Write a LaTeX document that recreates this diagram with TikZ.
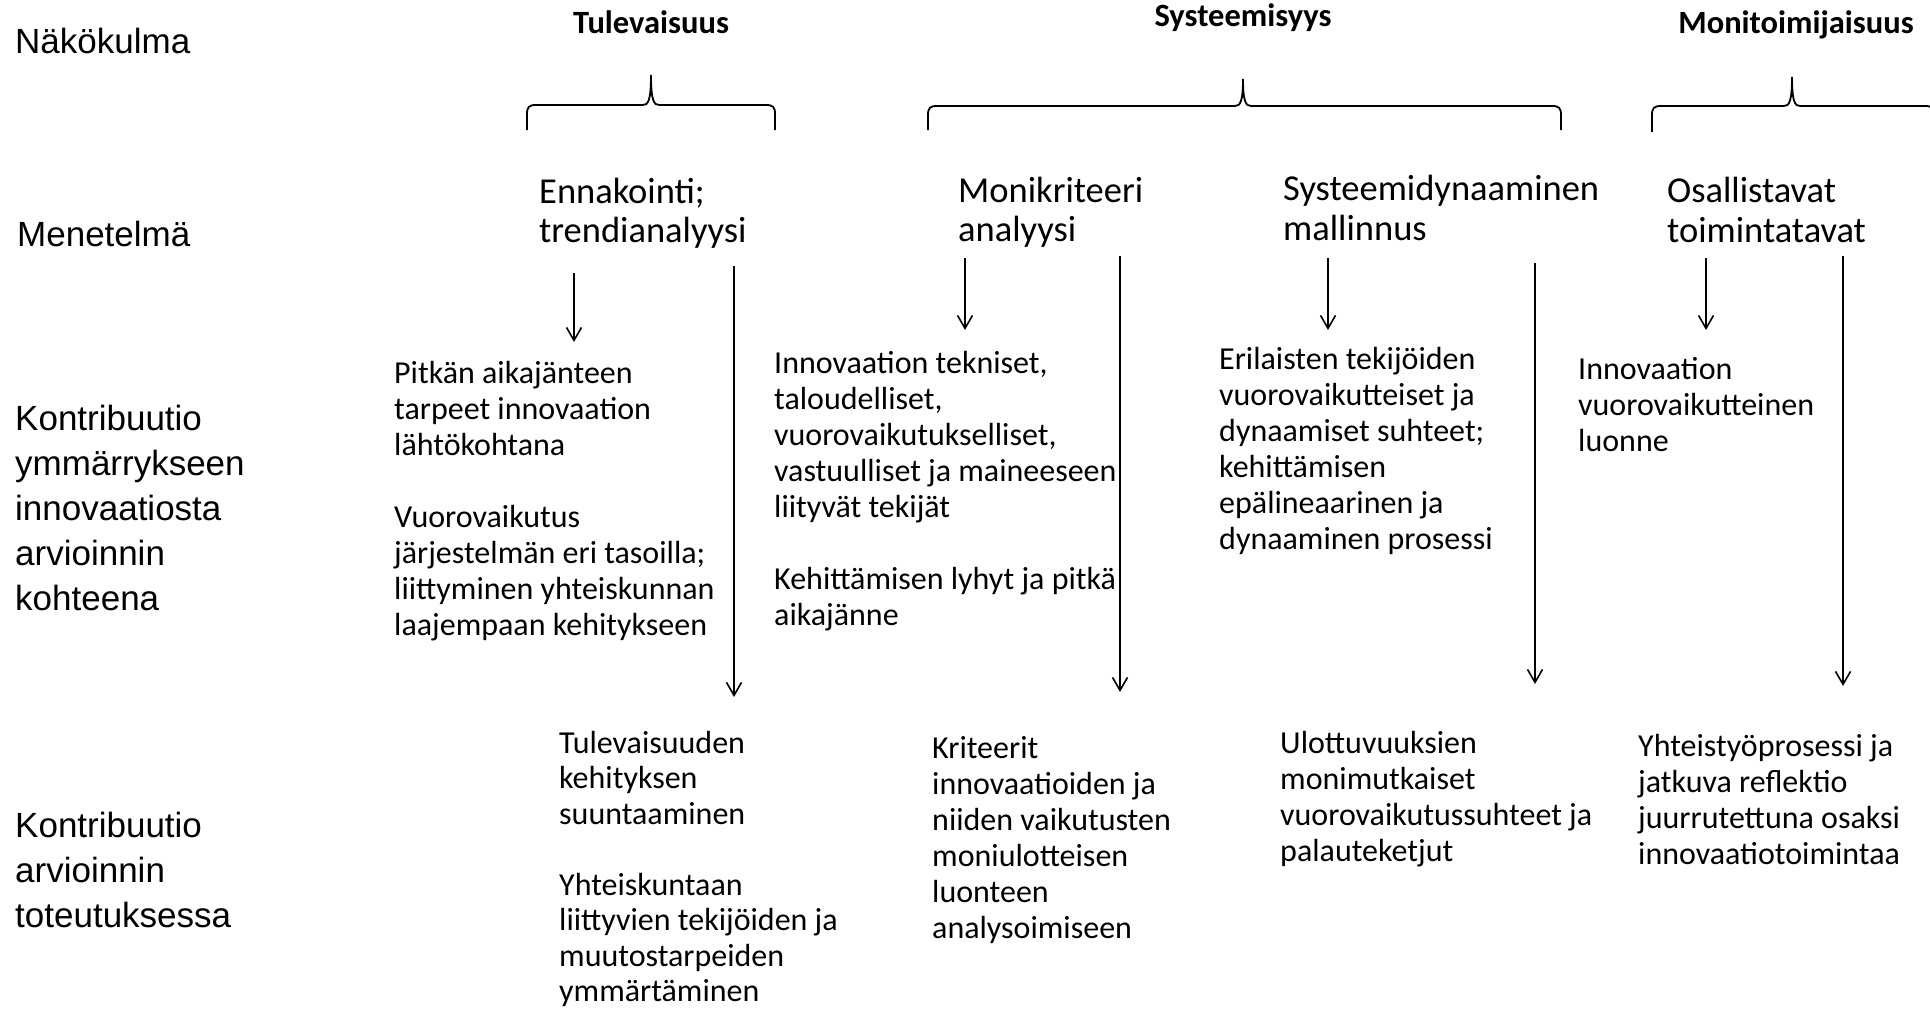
\documentclass[tikz,border=0pt]{standalone}
\usepackage{fontspec}
\setmainfont{Carlito}
\newfontfamily\lblfont{Liberation Sans}
\usetikzlibrary{arrows.meta}
\newcommand\drawbrace[6]{%
  \draw[bracestyle] ({#1},{#6}) -- ({#1},{#5+9})
    .. controls ({#1},{#5+2}) and ({#1+2},{#5}) .. ({#1+9},{#5})
    -- ({#2-8},{#5})
    .. controls ({#2-3},{#5}) and ({#2},{#5-4}) .. ({#2},{#4})
    .. controls ({#2},{#5-4}) and ({#2+3},{#5}) .. ({#2+8},{#5})
    -- ({#3-9},{#5})
    .. controls ({#3-2},{#5}) and ({#3},{#5+2}) .. ({#3},{#5+9})
    -- ({#3},{#6});}
\begin{document}
\begin{tikzpicture}[x=1pt,y=-1pt,
  rowlabel/.style={anchor=west,inner sep=0pt,align=left,font=\lblfont\fontsize{35}{45}\selectfont},
  header/.style={inner sep=0pt,font=\bfseries\fontsize{32.5}{38}\selectfont},
  method/.style={anchor=west,inner sep=0pt,align=left,font=\fontsize{36.5}{39.4}\selectfont},
  body/.style={anchor=west,inner sep=0pt,align=left,font=\fontsize{32}{36}\selectfont},
  arr/.style={line width=1.6pt,-{Straight Barb[length=13pt,width=15pt,line width=1.6pt]}},
  bracestyle/.style={line width=1.8pt}]
\useasboundingbox (0,0) rectangle (1930,1009);

% row labels
\node[rowlabel] (lnako) at (15,41) {Näkökulma};
\node[rowlabel] (lmene) at (17,234) {Menetelmä};
\node[rowlabel] (lkont1) at (15,508) {Kontribuutio\\ymmärrykseen\\innovaatiosta\\arvioinnin\\kohteena};
\node[rowlabel] (lkont2) at (15,870) {Kontribuutio\\arvioinnin\\toteutuksessa};

% headers
\node[header] (htule) at (651,22) {Tulevaisuus};
\node[header] (hsyst) at (1243,18) {Systeemisyys};
\node[header] (hmoni) at (1796,25) {Monitoimijaisuus};

% braces
\drawbrace{527}{651}{775}{75}{105}{130}
\drawbrace{928}{1243}{1561}{79}{106}{130}
\drawbrace{1652}{1792}{1934}{77}{106}{132}

% methods
\node[method] (m1) at (539,213) {Ennakointi;\\trendianalyysi};
\node[method] (m2) at (958,212) {Monikriteeri\\analyysi};
\node[method] (m3) at (1283,208) {Systeemidynaaminen\\mallinnus};
\node[method] (m4) at (1667,210) {Osallistavat\\toimintatavat};

% upper contributions
\node[body] (u1) at (394,501) {Pitkän aikajänteen\\tarpeet innovaation\\lähtökohtana\\[36pt]Vuorovaikutus\\järjestelmän eri tasoilla;\\liittyminen yhteiskunnan\\laajempaan kehitykseen};
\node[body] (u2) at (774,491) {Innovaation tekniset,\\taloudelliset,\\vuorovaikutukselliset,\\vastuulliset ja maineeseen\\liityvät tekijät\\[36pt]Kehittämisen lyhyt ja pitkä\\aikajänne};
\node[body] (u3) at (1219,451) {Erilaisten tekijöiden\\vuorovaikutteiset ja\\dynaamiset suhteet;\\kehittämisen\\epälineaarinen ja\\dynaaminen prosessi};
\node[body] (u4) at (1578,405) {Innovaation\\vuorovaikutteinen\\luonne};

% lower contributions
\node[body,font=\fontsize{32}{35.5}\selectfont] (d1) at (559,869) {Tulevaisuuden\\kehityksen\\suuntaaminen\\[35.5pt]Yhteiskuntaan\\liittyvien tekijöiden ja\\muutostarpeiden\\ymmärtäminen};
\node[body] (d2) at (932,840) {Kriteerit\\innovaatioiden ja\\niiden vaikutusten\\moniulotteisen\\luonteen\\analysoimiseen};
\node[body] (d3) at (1280,799) {Ulottuvuuksien\\monimutkaiset\\vuorovaikutussuhteet ja\\palauteketjut};
\node[body] (d4) at (1638,799) {Yhteistyöprosessi ja\\jatkuva reflektio\\juurrutettuna osaksi\\innovaatiotoimintaa};

% arrow end points
\coordinate (s1a) at (574,273); \coordinate (e1a) at (574,342);
\coordinate (s2a) at (965,258); \coordinate (e2a) at (965,330);
\coordinate (s3a) at (1328,258); \coordinate (e3a) at (1328,330);
\coordinate (s4a) at (1706,258); \coordinate (e4a) at (1706,330);
\coordinate (s1b) at (734,266); \coordinate (e1b) at (734,697);
\coordinate (s2b) at (1120,256); \coordinate (e2b) at (1120,692);
\coordinate (s3b) at (1535,263); \coordinate (e3b) at (1535,684);
\coordinate (s4b) at (1843,256); \coordinate (e4b) at (1843,686);

\draw[arr] (s1a) -- (e1a);
\draw[arr] (s2a) -- (e2a);
\draw[arr] (s3a) -- (e3a);
\draw[arr] (s4a) -- (e4a);
\draw[arr] (s1b) -- (e1b);
\draw[arr] (s2b) -- (e2b);
\draw[arr] (s3b) -- (e3b);
\draw[arr] (s4b) -- (e4b);
\end{tikzpicture}
\end{document}
